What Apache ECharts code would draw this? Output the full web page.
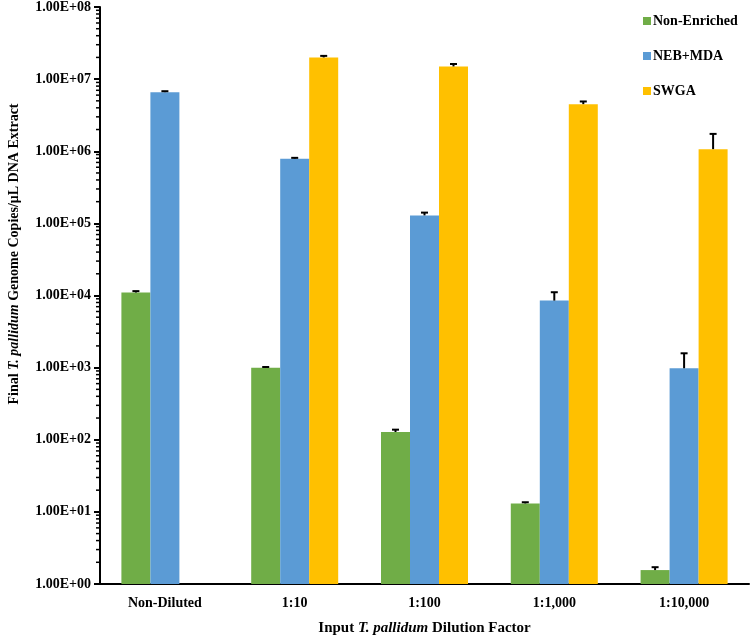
<!DOCTYPE html>
<html><head><meta charset="utf-8">
<script src="https://cdn.jsdelivr.net/npm/echarts@6/dist/echarts.min.js"></script>
<style>html,body{margin:0;padding:0;background:#fff}#c{width:750px;height:641px}</style>
</head><body><div id="c"></div>
<script>
const categories = ['Non-Diluted', '1:10', '1:100', '1:1,000', '1:10,000'];
const seriesNames = ['Non-Enriched', 'NEB+MDA', 'SWGA'];
const nonEnriched = [1.1e4, 1.0e3, 128, 13.1, 1.56];
const nonEnrichedErr = [500, 20, 10, 0.5, 0.15];
const nebMda = [6.6e6, 7.9e5, 1.29e5, 8.5e3, 980];
const nebMdaErr = [2e5, 2e4, 1.2e4, 2.6e3, 600];
const swga = [null, 2.0e7, 1.5e7, 4.5e6, 1.07e6];
const swgaErr = [null, 1e6, 1.2e6, 4e5, 6.7e5];
const yMin = 1, yMax = 1e8;

const FONT = 'Liberation Serif';
const colors = ['#70AD47', '#5B9BD5', '#FFC000'];
const BW = 29;

// minor tick values (2..9 x 10^k) for the log axis
const minorTicks = [];
for (let k = 0; k < 8; k++) for (let m = 2; m <= 9; m++) minorTicks.push([0, m * Math.pow(10, k)]);

function fmt(v) {
  const e = Math.round(Math.log10(v));
  const mant = (v / Math.pow(10, e)).toFixed(2);
  return mant + 'E' + (e >= 0 ? '+' : '-') + String(Math.abs(e)).padStart(2, '0');
}

function errSeries(vals, errs, offset) {
  return {
    type: 'custom',
    z: 10,
    silent: true,
    clip: false,
    encode: { x: 0, y: [1, 2] },
    data: vals.map((v, i) => v == null ? [i, null, null] : [i, v, v + errs[i]]),
    renderItem: function (params, api) {
      if (api.value(1) == null || isNaN(api.value(1))) return;
      const p0 = api.coord([api.value(0), api.value(1)]);
      const p1 = api.coord([api.value(0), api.value(2)]);
      const x = p0[0] + offset;
      return {
        type: 'group',
        children: [
          { type: 'line', shape: { x1: x, y1: p0[1], x2: x, y2: p1[1] }, style: { stroke: '#000', lineWidth: 2 } },
          { type: 'line', shape: { x1: x - 3.5, y1: p1[1], x2: x + 3.5, y2: p1[1] }, style: { stroke: '#000', lineWidth: 2 } }
        ]
      };
    }
  };
}

const chart = echarts.init(document.getElementById('c'), null, { renderer: 'canvas' });
chart.setOption({
  backgroundColor: '#fff',
  animation: false,
  textStyle: { fontFamily: FONT },
  grid: { left: 100, right: 1, top: 5, bottom: 55, containLabel: false },
  legend: {
    orient: 'vertical',
    left: 638, top: 9,
    itemWidth: 8, itemHeight: 8, itemGap: 21,
    icon: 'rect',
    data: seriesNames,
    textStyle: { fontFamily: FONT, fontWeight: 'bold', fontSize: 14, color: '#000', padding: [0, 0, 0, -3] }
  },
  graphic: [{
    type: 'text',
    x: 14, y: 254,
    rotation: Math.PI / 2,
    style: {
      text: '{b|Final }{i|T. pallidum}{b| Genome Copies/μL DNA Extract}',
      align: 'center', verticalAlign: 'middle',
      rich: {
        b: { fontFamily: FONT, fontWeight: 'bold', fontSize: 14, fill: '#000' },
        i: { fontFamily: FONT, fontWeight: 'bold', fontStyle: 'italic', fontSize: 14, fill: '#000' }
      }
    }
  }],
  xAxis: {
    type: 'category',
    data: categories,
    axisLine: { lineStyle: { color: '#000', width: 2 } },
    axisTick: { show: false },
    axisLabel: { fontFamily: FONT, fontWeight: 'bold', fontSize: 14, color: '#000', margin: 12 },
    name: '{b|Input }{i|T. pallidum}{b| Dilution Factor}',
    nameLocation: 'middle',
    nameGap: 37,
    nameTextStyle: {
      rich: {
        b: { fontFamily: FONT, fontWeight: 'bold', fontSize: 15, color: '#000' },
        i: { fontFamily: FONT, fontWeight: 'bold', fontStyle: 'italic', fontSize: 15, color: '#000' }
      }
    }
  },
  yAxis: {
    type: 'log',
    logBase: 10,
    min: yMin, max: yMax,
    interval: 1,
    axisLine: { show: true, lineStyle: { color: '#000', width: 2 } },
    axisTick: { show: true, length: 6, lineStyle: { color: '#000', width: 2 } },
    splitLine: { show: false },
    axisLabel: { formatter: fmt, fontFamily: FONT, fontWeight: 'bold', fontSize: 14, color: '#000', margin: 9 }
  },
  series: [
    { name: seriesNames[0], type: 'bar', data: nonEnriched, barWidth: BW, barGap: '0%', itemStyle: { color: colors[0] } },
    { name: seriesNames[1], type: 'bar', data: nebMda, barWidth: BW, barGap: '0%', itemStyle: { color: colors[1] } },
    { name: seriesNames[2], type: 'bar', data: swga, barWidth: BW, barGap: '0%', itemStyle: { color: colors[2] } },
    errSeries(nonEnriched, nonEnrichedErr, -BW),
    errSeries(nebMda, nebMdaErr, 0),
    errSeries(swga, swgaErr, BW),
    {
      type: 'custom',
      silent: true,
      clip: false,
      z: 11,
      encode: { x: 0, y: 1 },
      data: minorTicks,
      renderItem: function (params, api) {
        const p = api.coord([0, api.value(1)]);
        const ax = params.coordSys.x;
        return { type: 'line', shape: { x1: ax - 4, y1: p[1], x2: ax, y2: p[1] }, style: { stroke: '#000', lineWidth: 1.5 } };
      }
    }
  ]
});
</script>
</body></html>
